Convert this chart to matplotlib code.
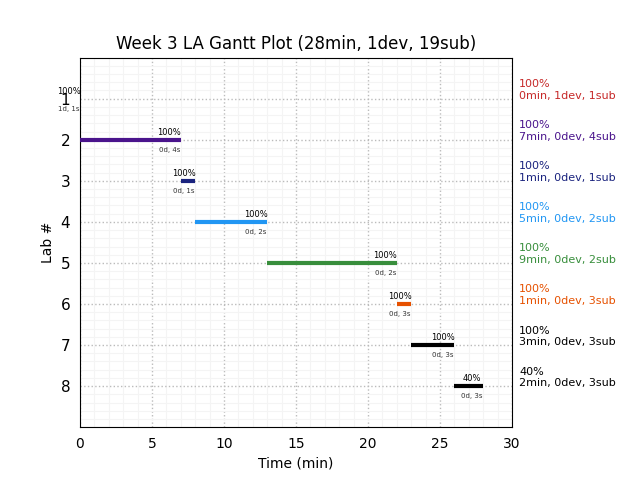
import matplotlib.pyplot as plt
from matplotlib.ticker import MultipleLocator

# Datos de los labs
labs = [1, 2, 3, 4, 5, 6, 7, 8]
minutos = [0, 7, 1, 5, 9, 1, 3, 2]
devs = [1, 0, 0, 0, 0, 0, 0, 0]
subs = [1, 4, 1, 2, 2, 3, 3, 3]
progreso = [100, 100, 100, 100, 100, 100, 100, 40]
colores = ['#c62828', '#4a148c', '#1a237e', '#2196f3',
           '#388e3c', '#e65100', '#000000', '#000000']


def plot_gantt(output_file):
    fig, ax = plt.subplots(figsize=(6.4, 4.8), dpi=100)
    fig.subplots_adjust(left=0.125, right=0.8, top=0.88, bottom=0.11)

    inicio = 0
    for lab, m, d, s, p, c in zip(labs, minutos, devs, subs, progreso, colores):
        fin = inicio + m
        ax.hlines(lab, inicio, fin, colors=c, linewidth=3, zorder=3)
        ax.text(fin - 0.8, lab - 0.07, f'{p}%', ha='center', va='bottom', fontsize=6)
        ax.text(fin - 0.8, lab + 0.17, f'{d}d, {s}s', ha='center', va='top',
                fontsize=5, color='#333333')
        ax.text(30.5, lab + 0.05, f'{p}%\n{m}min, {d}dev, {s}sub', ha='left',
                va='bottom', fontsize=8, color=c, clip_on=False)
        inicio = fin

    ax.set_xlim(0, 30)
    ax.set_ylim(9, 0)
    ax.set_yticks(labs)
    ax.xaxis.set_minor_locator(MultipleLocator(1))
    ax.yaxis.set_minor_locator(MultipleLocator(0.2))
    ax.grid(which='major', linestyle=':', color='#bbbbbb', linewidth=1, zorder=0)
    ax.grid(which='minor', linestyle='-', color='#f4f4f4', linewidth=0.8, zorder=0)
    ax.tick_params(which='both', color=(0, 0, 0, 0), labelsize=10)
    ax.tick_params(axis='y', labelsize=11)
    ax.set_axisbelow(True)
    ax.set_xlabel('Time (min)')
    ax.set_ylabel('Lab #')
    total = sum(minutos)
    ax.set_title(f'Week 3 LA Gantt Plot ({total}min, {sum(devs)}dev, {sum(subs)}sub)')
    plt.savefig(output_file)


if __name__ == "__main__":
    plot_gantt('out.png')
